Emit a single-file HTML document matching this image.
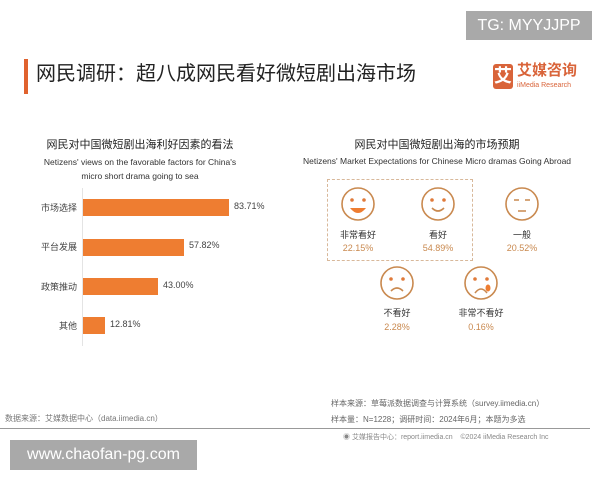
<!DOCTYPE html>
<html><head><meta charset="utf-8"><style>
body{margin:0;width:600px;height:480px;background:#fff;position:relative;overflow:hidden;font-family:"Liberation Sans","Noto Sans CJK SC",sans-serif}
.a{position:absolute;white-space:nowrap}
.c{transform:translateX(-50%);text-align:center}
</style></head><body>
<div class="a" style="left:466px;top:11px;width:126px;height:29px;background:#a9a9a9;color:#fff;font-size:16px;line-height:29px;text-align:center">TG: MYYJJPP</div>
<div class="a" style="left:24px;top:59px;width:4px;height:35px;background:#e0622e"></div>
<div class="a" style="left:36px;top:61px;font-size:20px;color:#222;line-height:26px">网民调研：超八成网民看好微短剧出海市场</div>
<div class="a" style="left:493px;top:64px;width:20px;height:25px;background:#d9643a;border-radius:3px;color:#fff;font-size:18px;line-height:25px;text-align:center;font-weight:bold">艾</div>
<div class="a" style="left:517px;top:62px;font-size:15px;color:#d9643a;font-weight:bold;line-height:18px">艾媒咨询</div>
<div class="a" style="left:517px;top:81px;font-size:7px;color:#d9643a;line-height:9px">iiMedia Research</div>

<div class="a c" style="left:140px;top:137px;font-size:11px;color:#222;line-height:16px">网民对中国微短剧出海利好因素的看法</div>
<div class="a c" style="left:140px;top:155px;font-size:8.5px;color:#333;line-height:14px">Netizens' views on the favorable factors for China's<br>micro short drama going to sea</div>
<div class="a" style="left:82px;top:188px;width:1px;height:158px;background:#e4e4e4"></div>
<div class="a" style="left:83px;top:199px;width:146px;height:17px;background:#ee7d31"></div>
<div class="a" style="left:83px;top:239px;width:101px;height:17px;background:#ee7d31"></div>
<div class="a" style="left:83px;top:278px;width:75px;height:17px;background:#ee7d31"></div>
<div class="a" style="left:83px;top:317px;width:22px;height:17px;background:#ee7d31"></div>
<div class="a" style="right:523px;top:201px;font-size:9px;color:#444">市场选择</div>
<div class="a" style="right:523px;top:240px;font-size:9px;color:#444">平台发展</div>
<div class="a" style="right:523px;top:280px;font-size:9px;color:#444">政策推动</div>
<div class="a" style="right:523px;top:319px;font-size:9px;color:#444">其他</div>
<div class="a" style="left:234px;top:201px;font-size:9px;color:#444">83.71%</div>
<div class="a" style="left:189px;top:240px;font-size:9px;color:#444">57.82%</div>
<div class="a" style="left:163px;top:280px;font-size:9px;color:#444">43.00%</div>
<div class="a" style="left:110px;top:319px;font-size:9px;color:#444">12.81%</div>

<div class="a c" style="left:437px;top:137px;font-size:11px;color:#222;line-height:16px">网民对中国微短剧出海的市场预期</div>
<div class="a c" style="left:437px;top:154px;font-size:8.5px;color:#333;line-height:14px">Netizens' Market Expectations for Chinese Micro dramas Going Abroad</div>
<div class="a" style="left:327px;top:179px;width:144px;height:80px;border:1px dashed #d8b89a"></div>
<svg class="a" style="left:0;top:0" width="600" height="480" fill="none" stroke="#c9894f" stroke-width="1.6">
<g><circle cx="358" cy="204" r="16"/><circle cx="352" cy="200" r="1.8" fill="#e07a3a" stroke="none"/><circle cx="364" cy="200" r="1.8" fill="#e07a3a" stroke="none"/><path d="M350 208 Q358 218 366 208 Z" fill="#ee7d31" stroke="none"/></g>
<g><circle cx="438" cy="204" r="16"/><circle cx="432" cy="200" r="1.8" fill="#e07a3a" stroke="none"/><circle cx="444" cy="200" r="1.8" fill="#e07a3a" stroke="none"/><path d="M432 208 Q438 214 444 208"/></g>
<g><circle cx="522" cy="204" r="16"/><path d="M514 200 h5 M525 200 h5 M518 211 h8"/></g>
<g><circle cx="397" cy="283" r="16"/><circle cx="391" cy="279" r="1.8" fill="#e07a3a" stroke="none"/><circle cx="403" cy="279" r="1.8" fill="#e07a3a" stroke="none"/><path d="M391 291 Q397 285 403 291"/></g>
<g><circle cx="481" cy="283" r="16"/><circle cx="475" cy="279" r="1.8" fill="#e07a3a" stroke="none"/><circle cx="487" cy="279" r="1.8" fill="#e07a3a" stroke="none"/><path d="M475 293 Q481 285 487 293"/><ellipse cx="488" cy="288" rx="2.5" ry="3.5" fill="#ee7d31" stroke="none"/></g>
</svg>
<div class="a c" style="left:358px;top:228px;font-size:9px;color:#333">非常看好</div>
<div class="a c" style="left:358px;top:243px;font-size:9px;color:#c9894f">22.15%</div>
<div class="a c" style="left:438px;top:228px;font-size:9px;color:#333">看好</div>
<div class="a c" style="left:438px;top:243px;font-size:9px;color:#c9894f">54.89%</div>
<div class="a c" style="left:522px;top:228px;font-size:9px;color:#333">一般</div>
<div class="a c" style="left:522px;top:243px;font-size:9px;color:#c9894f">20.52%</div>
<div class="a c" style="left:397px;top:306px;font-size:9px;color:#333">不看好</div>
<div class="a c" style="left:397px;top:322px;font-size:9px;color:#c9894f">2.28%</div>
<div class="a c" style="left:481px;top:306px;font-size:9px;color:#333">非常不看好</div>
<div class="a c" style="left:481px;top:322px;font-size:9px;color:#c9894f">0.16%</div>

<div class="a" style="left:5px;top:413px;font-size:8px;color:#777">数据来源：艾媒数据中心（data.iimedia.cn）</div>
<div class="a" style="left:331px;top:398px;font-size:8px;color:#666">样本来源：草莓派数据调查与计算系统（survey.iimedia.cn）</div>
<div class="a" style="left:331px;top:414px;font-size:8px;color:#666">样本量：N=1228；调研时间：2024年6月；本题为多选</div>
<div class="a" style="left:0;top:428px;width:590px;height:1px;background:#999"></div>
<div class="a" style="left:343px;top:432px;font-size:7px;color:#888">◉ 艾媒报告中心：report.iimedia.cn &nbsp;&nbsp; ©2024 iiMedia Research Inc</div>
<div class="a" style="left:10px;top:440px;width:187px;height:30px;background:#a9a9a9;color:#fff;font-size:16px;line-height:30px;text-align:center">www.chaofan-pg.com</div>
</body></html>
